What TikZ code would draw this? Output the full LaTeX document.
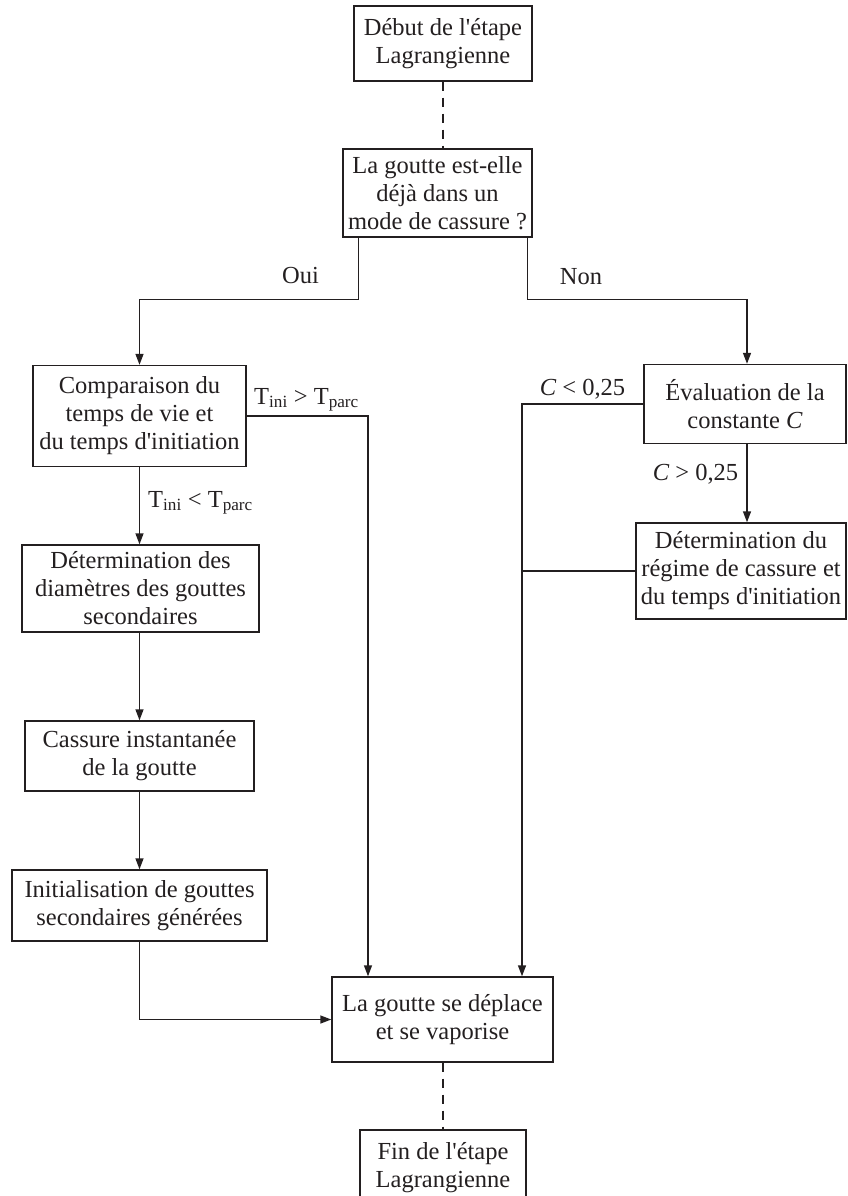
\documentclass[tikz,border=0pt]{standalone}
\usepackage{fontspec}
\setmainfont{Liberation Serif}
\usetikzlibrary{arrows.meta}
\definecolor{ink}{RGB}{35,31,32}
\newcommand{\apo}{\textquotesingle}
\begin{document}
\begin{tikzpicture}[x=1pt,y=-1pt,
  box/.style={draw=ink, line width=1.4pt, align=center, inner sep=0pt,
    font=\fontsize{24.5}{28}\selectfont, text=ink},
  lbl/.style={anchor=base, inner sep=0pt, font=\fontsize{24.5}{28}\selectfont, text=ink},
  conn/.style={draw=ink, line width=1.4pt},
  arr/.style={conn, -{Triangle[length=11pt,width=8pt]}},
  dsh/.style={conn, dash pattern=on 9pt off 7pt}]
\useasboundingbox (0,0) rectangle (847,1196);

% nodes
\node[box, minimum width=178pt, minimum height=75pt] (start) at (443,43.5) {Début de l\apo étape\\Lagrangienne};
\node[box, minimum width=189pt, minimum height=88pt] (q) at (437.5,193) {La goutte est-elle\\déjà dans un\\mode de cassure ?};
\node[box, minimum width=213pt, minimum height=101pt] (comp) at (139.5,416) {Comparaison du\\temps de vie et\\du temps d\apo initiation};
\node[box, minimum width=202pt, minimum height=79pt] (eval) at (745,404) {Évaluation de la\\constante \textit{C}};
\node[box, minimum width=210pt, minimum height=96pt] (detreg) at (741,571) {Détermination du\\régime de cassure et\\du temps d\apo initiation};
\node[box, minimum width=237pt, minimum height=87pt] (detdia) at (140.5,588.5) {Détermination des\\diamètres des gouttes\\secondaires};
\node[box, minimum width=229pt, minimum height=70pt] (cass) at (139.5,756) {Cassure instantanée\\de la goutte};
\node[box, minimum width=255pt, minimum height=71pt] (init) at (139.5,905.5) {Initialisation de gouttes\\secondaires générées};
\node[box, minimum width=221pt, minimum height=85pt] (move) at (442.5,1019.5) {La goutte se déplace\\et se vaporise};
\node[box, minimum width=166pt, minimum height=75pt] (fin) at (443,1167.5) {Fin de l\apo étape\\Lagrangienne};

% labels
\node[lbl] (oui) at (300.5,283) {Oui};
\node[lbl] (non) at (581,284) {Non};
\node[lbl] (tgt) at (306.5,404) {T\textsubscript{ini} > T\textsubscript{parc}};
\node[lbl] (tlt) at (200.5,507) {T\textsubscript{ini} < T\textsubscript{parc}};
\node[lbl] (clt) at (582.5,395) {\textit{C} < 0,25};
\node[lbl] (cgt) at (695.5,480) {\textit{C} > 0,25};

% connectors
\draw[dsh] (start.south) -- (start.south |- q.north);
\draw[arr] ([xshift=16pt]q.south west) -- ++(0,62) -| (comp.north);
\draw[arr] ([xshift=-5pt]q.south east) -- ++(0,62) -| ([xshift=2pt]eval.north);
\draw[arr] (comp.east) -| ([xshift=-74.5pt]move.north);
\draw[arr] (comp.south) -- (detdia.north -| comp.south);
\draw[arr] (detdia.south -| cass.north) -- (cass.north);
\draw[arr] (cass.south) -- (init.north);
\draw[arr] (init.south) |- (move.west);
\draw[arr] (eval.west) -| ([xshift=79.5pt]move.north);
\draw[arr] ([xshift=2pt]eval.south) -- ([xshift=2pt]eval.south |- detreg.north);
\draw[conn] (detreg.west) -- ([xshift=79.5pt]move.north |- detreg.west);
\draw[dsh] (move.south -| fin.north) -- (fin.north);
\end{tikzpicture}
\end{document}
